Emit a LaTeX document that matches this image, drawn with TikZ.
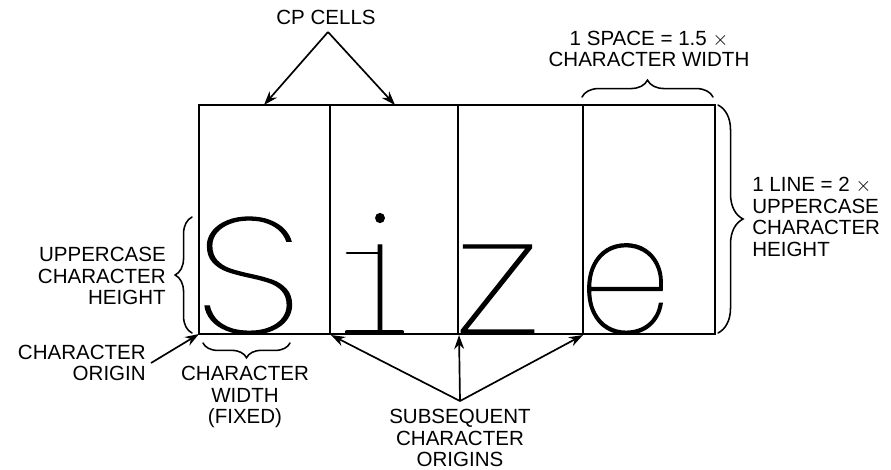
\documentclass[tikz,border=0pt]{standalone}
\usepackage{fontspec}
\setmainfont{Liberation Sans}
\newfontfamily\glyphfont[FakeBold=0.8]{Poppins Thin}
\usetikzlibrary{arrows.meta,decorations.pathreplacing}
\tikzset{
  cellln/.style={black, line width=1.1pt},
  ptr/.style={-{Stealth[length=10pt,width=7pt]}, black, line width=1.2pt},
  brc/.style={black, line width=1.1pt, line cap=round, decorate,
              decoration={brace, amplitude=#1}},
  lab/.style={font=\fontsize{14.6}{15.25}\selectfont, inner sep=0pt, align=center},
  labr/.style={lab, align=right, anchor=east},
  labl/.style={lab, align=left, anchor=west},
  big/.style={font=\glyphfont\fontsize{116}{116}\selectfont, inner sep=0pt, text depth=0pt, anchor=base},
  stk/.style={black, line width=2pt, line cap=round},
}
\begin{document}
\begin{tikzpicture}[x=0.025cm, y=-0.025cm]
  \useasboundingbox (0,0) rectangle (891,469);
  % cells
  \draw[cellln] (199,105) rectangle (715,334);
  \foreach \xv in {330,458,583}
    \draw[cellln] (\xv,105) -- (\xv,334);
  \coordinate (cpa) at (264,105);
  \coordinate (cpb) at (395,105);
  \coordinate (org0) at (199,334);
  \coordinate (org1) at (331,335);
  \coordinate (org2) at (459,335);
  \coordinate (org3) at (583,335);
  % letters
  \node[big] (ltrs) at (248,333) {\scalebox{1.22}[1]{S}};
  \node[big] (ltri) at (380,333) {i};
  \node[big] (ltrz) at (497.5,333) {\scalebox{1.27}[1]{z}};
  \node[big] (ltre) at (625,333) {\scalebox{0.9}[1]{e}};
  \draw[stk] (347,253) -- (380,253);
  \draw[stk, line width=3pt] (347,332) -- (402,332);
  % labels
  \node[lab] (cplab) at (326,17) {CP CELLS};
  \node[lab] (splab) at (649,49) {1 SPACE = 1.5 $\times$\\CHARACTER WIDTH};
  \node[labl] (lnlab) at (752,217) {1 LINE = 2 $\times$\\UPPERCASE\\CHARACTER\\HEIGHT};
  \node[labr] (uplab) at (166,276) {UPPERCASE\\CHARACTER\\HEIGHT};
  \node[labr] (orlab) at (146,363) {CHARACTER\\ORIGIN};
  \node[lab] (cwlab) at (245,397) {CHARACTER\\WIDTH\\(FIXED)};
  \node[lab] (sblab) at (460,438) {SUBSEQUENT\\CHARACTER\\ORIGINS};
  % arrows
  \coordinate (cptop) at (328,32);
  \coordinate (sbtop) at (460,401);
  \draw[ptr] (cptop) -- (cpa);
  \draw[ptr] (cptop) -- (cpb);
  \draw[ptr] (orlab.east)+(5,0) -- (org0);
  \draw[ptr] (sbtop) -- (org1);
  \draw[ptr] (sbtop) -- (org2);
  \draw[ptr] (sbtop) -- (org3);
  % braces
  \draw[brc=12pt] (582,97) -- (713,97);
  \draw[brc=17.8pt] (718,105) -- (718,333);
  \draw[brc=12pt] (192,333) -- (192,217);
  \draw[brc=10.5pt] (290,343) -- (203,343);
\end{tikzpicture}
\end{document}
